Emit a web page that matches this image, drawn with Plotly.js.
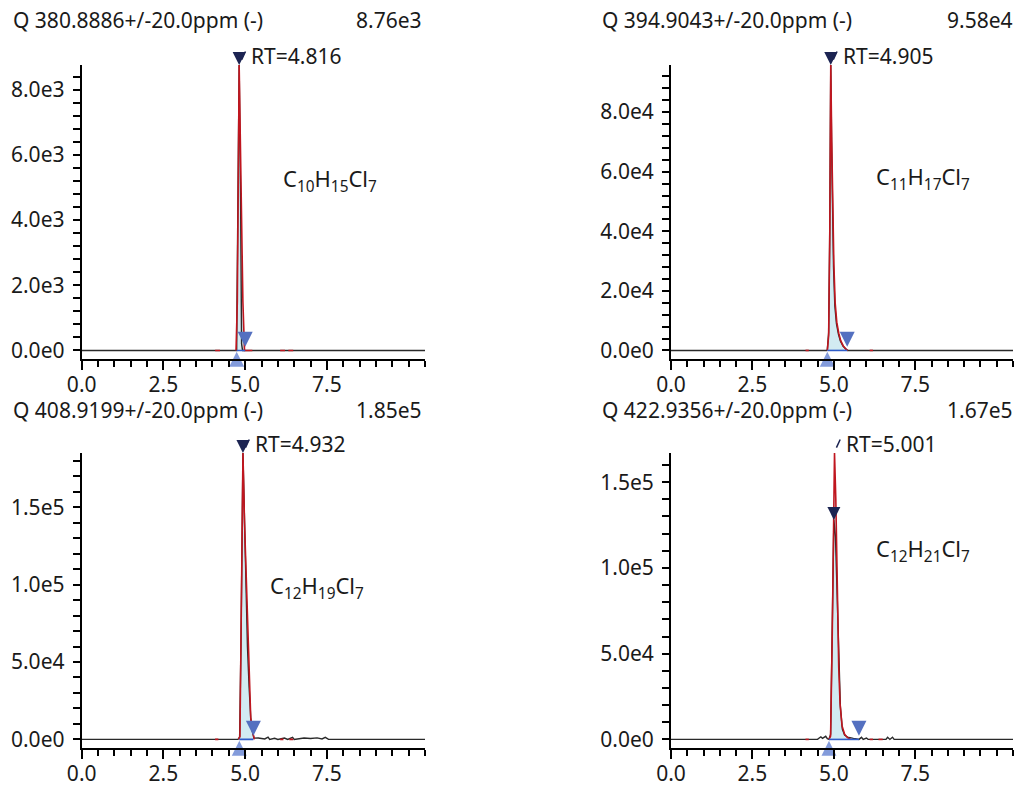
<!DOCTYPE html>
<html>
<head>
<meta charset="utf-8">
<script src="https://cdn.plot.ly/plotly-3.0.1.min.js"></script>
<style>html,body{margin:0;padding:0;background:#fff;}#chart{width:1014px;height:785px;}</style>
</head>
<body>
<div id="chart"></div>
<script>
// ---------------- DATA ----------------
const mzTitles = ['Q 380.8886+/-20.0ppm (-)', 'Q 394.9043+/-20.0ppm (-)', 'Q 408.9199+/-20.0ppm (-)', 'Q 422.9356+/-20.0ppm (-)'];
const maxLabels = ['8.76e3', '9.58e4', '1.85e5', '1.67e5'];
const maxIntensity = [8760, 95800, 185000, 167000];
const rtValues = [4.816, 4.905, 4.932, 5.001];
const rtLabels = ['RT=4.816', 'RT=4.905', 'RT=4.932', 'RT=5.001'];
const apexIntensity = [8760, 95800, 185000, 128000];
const formulas = ['C<sub>10</sub>H<sub>15</sub>Cl<sub>7</sub>', 'C<sub>11</sub>H<sub>17</sub>Cl<sub>7</sub>', 'C<sub>12</sub>H<sub>19</sub>Cl<sub>7</sub>', 'C<sub>12</sub>H<sub>21</sub>Cl<sub>7</sub>'];
const peakStart = [4.74, 4.80, 4.82, 4.85];
const peakEnd = [5.00, 5.41, 5.25, 5.77];
const yMajorStep = [2000, 20000, 50000, 50000];
const xTickVals = [0, 2.5, 5, 7.5, 10];
const xTickText = ['0.0', '2.5', '5.0', '7.5', ''];
const xMax = 10.5;

// raw extracted-ion chromatograms (black)
const eic1Time = [0, 4.74, 4.75, 4.816, 4.86, 4.89, 4.92, 10.5];
const eic1Int  = [0, 0, 1500, 8760, 4630, 200, 0, 0];
const eic2Time = [0, 4.78, 4.80, 4.84, 4.87, 4.905, 4.93, 4.96, 4.99, 5.03, 5.08, 5.14, 5.20, 5.28, 5.36, 5.42, 10.5];
const eic2Int  = [0, 0, 300, 6000, 35000, 95800, 70000, 45000, 28000, 15000, 9000, 5500, 3200, 1500, 500, 0, 0];
const eic3Time = [0, 4.78, 4.83, 4.87, 4.932, 4.97, 5.02, 5.07, 5.12, 5.17, 5.22, 5.27, 5.40, 5.60, 5.70, 5.75, 5.90, 6.00, 6.20, 6.30, 6.45, 6.50, 6.80, 7.00, 7.20, 7.35, 7.45, 7.55, 10.5];
const eic3Int  = [0, 0, 1500, 60000, 185000, 150000, 100000, 60000, 34000, 14000, 5000, 800, 900, 300, 1500, 0, 700, 0, 900, 0, 1300, 0, 900, 600, 1000, 300, 1300, 0, 0];
const eic4Time = [0, 4.50, 4.55, 4.60, 4.65, 4.70, 4.75, 4.80, 4.85, 4.90, 4.95, 5.00, 5.05, 5.10, 5.15, 5.20, 5.26, 5.33, 5.42, 5.50, 5.60, 5.70, 5.77, 5.85, 5.90, 6.00, 6.05, 6.60, 6.65, 6.72, 6.80, 6.85, 10.5];
const eic4Int  = [0, 0, 800, 1500, 600, 1000, 1800, 400, 0, 3000, 55000, 128000, 118000, 82000, 40000, 19000, 6000, 2500, 1300, 800, 600, 300, 0, 1200, 0, 800, 0, 0, 1200, 0, 1300, 0, 0];

// fitted peak profiles (red); null separates segments
const fit1Time = [4.08, 4.23, null, 4.72, 4.76, 4.816, 4.87, 4.93, 4.98, 5.22, null, 6.07, 6.22, null, 6.32, 6.47];
const fit1Int  = [0, 0, null, 0, 1500, 8760, 4600, 1500, 0, 0, null, 0, 0, null, 0, 0];
const fit2Time = [4.13, 4.23, null, 4.80, 4.84, 4.875, 4.905, 4.935, 4.97, 5.00, 5.04, 5.09, 5.15, 5.21, 5.29, 5.37, 5.43, null, 6.10, 6.20];
const fit2Int  = [0, 0, null, 0, 5000, 40000, 95800, 70000, 46000, 29000, 16000, 9500, 5800, 3300, 1500, 400, 0, null, 0, 0];
const fit3Time = [4.08, 4.18, null, 4.80, 4.84, 4.89, 4.932, 4.98, 5.04, 5.09, 5.12, 5.17, 5.21, 5.25, 5.28, null, 6.07, 6.17, null, 6.35, 6.47];
const fit3Int  = [0, 0, null, 0, 2000, 99000, 185000, 140000, 99000, 55000, 34000, 14000, 7000, 1500, 0, null, 0, 0, null, 0, 0];
const fit4Time = [4.13, 4.23, null, 4.85, 4.90, 4.95, 5.00, 5.02, 5.06, 5.10, 5.15, 5.19, 5.25, 5.33, 5.42, 5.52, null, 6.10, 6.20, null, 6.37, 6.50];
const fit4Int  = [0, 0, null, 0, 2000, 60000, 150000, 167000, 140000, 89000, 42000, 21000, 8000, 3000, 1000, 0, null, 0, 0, null, 0, 0];

const eicTimes = [eic1Time, eic2Time, eic3Time, eic4Time];
const eicInts = [eic1Int, eic2Int, eic3Int, eic4Int];
const fitTimes = [fit1Time, fit2Time, fit3Time, fit4Time];
const fitInts = [fit1Int, fit2Int, fit3Int, fit4Int];

// ---------------- LAYOUT HELPERS ----------------
const W = 1014, H = 785;
const FONT = 'Noto Sans, Open Sans, DejaVu Sans, sans-serif';
const FS = 21;
const boxes = [[81.7, 425, 65, 359], [671, 1013, 65, 359], [81.7, 425, 453, 748], [671, 1013, 453, 748]];
const titlePos = [[12.7, 356, 20], [601.7, 946.7, 20], [12.7, 356, 410], [601.7, 946.7, 410]];
const formulaPos = [[281, 180], [874, 178], [268, 587], [874, 550]];
const px = x => x / W;
const py = y => 1 - y / H;

function fmtE(v) {
  if (v === 0) return '0.0e0';
  const e = Math.floor(Math.log10(Math.abs(v)) + 1e-9);
  return (v / Math.pow(10, e)).toFixed(1) + 'e' + e;
}

const traces = [];
const layout = {
  width: W, height: H,
  margin: {l: 0, r: 0, t: 0, b: 0},
  paper_bgcolor: '#fff', plot_bgcolor: '#fff',
  showlegend: false,
  font: {family: FONT, size: FS, color: '#1a1a1a'},
  annotations: []
};

for (let i = 0; i < 4; i++) {
  const n = i === 0 ? '' : String(i + 1);
  const xr = 'x' + n, yr = 'y' + n;
  const b = boxes[i];
  const ymax = maxIntensity[i];
  const ymin = -0.03 * ymax;

  const yTicks = [];
  for (let v = 0; v <= ymax + 1e-9; v += yMajorStep[i]) yTicks.push(v);
  const yMinor = [];
  const ms = yMajorStep[i] / 5;
  for (let v = 0; v <= ymax + 1e-9; v += ms) yMinor.push(v);
  const xMinor = [];
  for (let v = 0; v <= xMax + 1e-9; v += 0.5) xMinor.push(v);

  layout['xaxis' + n] = {
    domain: [px(b[0]), px(b[1])], anchor: yr, range: [0, xMax],
    showgrid: false, zeroline: false, showline: true, linewidth: 2, linecolor: '#000',
    tickmode: 'array', tickvals: xTickVals, ticktext: xTickText,
    ticks: 'outside', ticklen: 9, tickwidth: 2, tickcolor: '#000',
    ticklabelstandoff: -3,
    tickfont: {family: FONT, size: FS, color: '#1a1a1a'},
    minor: {tickmode: 'array', tickvals: xMinor, ticks: 'outside', ticklen: 6, tickwidth: 2, tickcolor: '#000'},
    fixedrange: true
  };
  layout['yaxis' + n] = {
    domain: [py(b[3]), py(b[2])], anchor: xr, range: [ymin, ymax],
    showgrid: false, zeroline: false, showline: true, linewidth: 2, linecolor: '#000',
    tickmode: 'array', tickvals: yTicks, ticktext: yTicks.map(fmtE),
    ticks: 'outside', ticklen: 7, tickwidth: 2, tickcolor: '#000',
    ticklabelstandoff: 4,
    tickfont: {family: FONT, size: FS, color: '#1a1a1a'},
    minor: {tickmode: 'array', tickvals: yMinor, ticks: 'outside', ticklen: 7, tickwidth: 2, tickcolor: '#000'},
    fixedrange: true
  };

  // integrated area under the fitted peak
  const fx = [peakStart[i]], fy = [0];
  fitTimes[i].forEach((t, k) => {
    if (t !== null && t > peakStart[i] && t < peakEnd[i]) { fx.push(t); fy.push(fitInts[i][k]); }
  });
  fx.push(peakEnd[i]); fy.push(0);
  traces.push({x: fx, y: fy, xaxis: xr, yaxis: yr, type: 'scatter', mode: 'lines',
    fill: 'toself', fillcolor: '#d2ebf2', line: {width: 0, color: 'rgba(0,0,0,0)'}, hoverinfo: 'skip'});

  // raw trace
  traces.push({x: eicTimes[i], y: eicInts[i], xaxis: xr, yaxis: yr, type: 'scatter', mode: 'lines',
    line: {color: '#2a2a2a', width: 1.4}, hoverinfo: 'skip'});

  // fitted trace
  traces.push({x: fitTimes[i], y: fitInts[i], xaxis: xr, yaxis: yr, type: 'scatter', mode: 'lines',
    connectgaps: false, line: {color: '#c0161f', width: 1.6}, hoverinfo: 'skip'});

  // integration baseline
  traces.push({x: [peakStart[i], peakEnd[i]], y: [0, 0], xaxis: xr, yaxis: yr, type: 'scatter', mode: 'lines',
    line: {color: '#2f5cc8', width: 1.6}, hoverinfo: 'skip'});

  // peak start / end / apex markers
  traces.push({x: [peakStart[i]], y: [-0.005 * ymax], xaxis: xr, yaxis: yr, type: 'scatter', mode: 'markers',
    cliponaxis: false, marker: {symbol: 'arrow-up', size: 15, color: 'rgba(100,130,210,0.8)', line: {width: 0}}, hoverinfo: 'skip'});
  traces.push({x: [peakEnd[i]], y: [0.013 * ymax], xaxis: xr, yaxis: yr, type: 'scatter', mode: 'markers',
    cliponaxis: false, marker: {symbol: 'arrow-down', size: 15, color: '#5470c0', line: {width: 0}}, hoverinfo: 'skip'});
  traces.push({x: [rtValues[i]], y: [apexIntensity[i]], xaxis: xr, yaxis: yr, type: 'scatter', mode: 'markers',
    cliponaxis: false, marker: {symbol: 'arrow-down', size: 13, color: '#1c2452', line: {width: 0}}, hoverinfo: 'skip'});

  // little tick mark next to apex (drawn as a headless arrow)
  layout.annotations.push({xref: xr, yref: yr, x: rtValues[i], y: ymax, text: '',
    showarrow: true, arrowhead: 0, arrowwidth: 1.5, arrowcolor: '#1c2452',
    ax: 7, ay: -15, standoff: 6});

  // RT label
  layout.annotations.push({xref: xr, yref: yr, x: rtValues[i], y: ymax, text: rtLabels[i],
    showarrow: false, xanchor: 'left', yanchor: 'middle', xshift: 10, yshift: 9,
    font: {family: FONT, size: FS, color: '#1a1a1a'}});

  // titles
  const tp = titlePos[i];
  layout.annotations.push({xref: 'paper', yref: 'paper', x: px(tp[0] - 2), y: py(tp[2]), text: mzTitles[i],
    showarrow: false, xanchor: 'left', yanchor: 'middle', font: {family: FONT, size: FS, color: '#1a1a1a'}});
  layout.annotations.push({xref: 'paper', yref: 'paper', x: px(tp[1] - 2), y: py(tp[2]), text: maxLabels[i],
    showarrow: false, xanchor: 'left', yanchor: 'middle', font: {family: FONT, size: FS, color: '#1a1a1a'}});

  // formula
  const fp = formulaPos[i];
  layout.annotations.push({xref: 'paper', yref: 'paper', x: px(fp[0]), y: py(fp[1]), text: formulas[i],
    showarrow: false, xanchor: 'left', yanchor: 'middle', font: {family: FONT, size: 22, color: '#1a1a1a'}});
}

Plotly.newPlot('chart', traces, layout, {staticPlot: true, displayModeBar: false});
</script>
</body>
</html>
